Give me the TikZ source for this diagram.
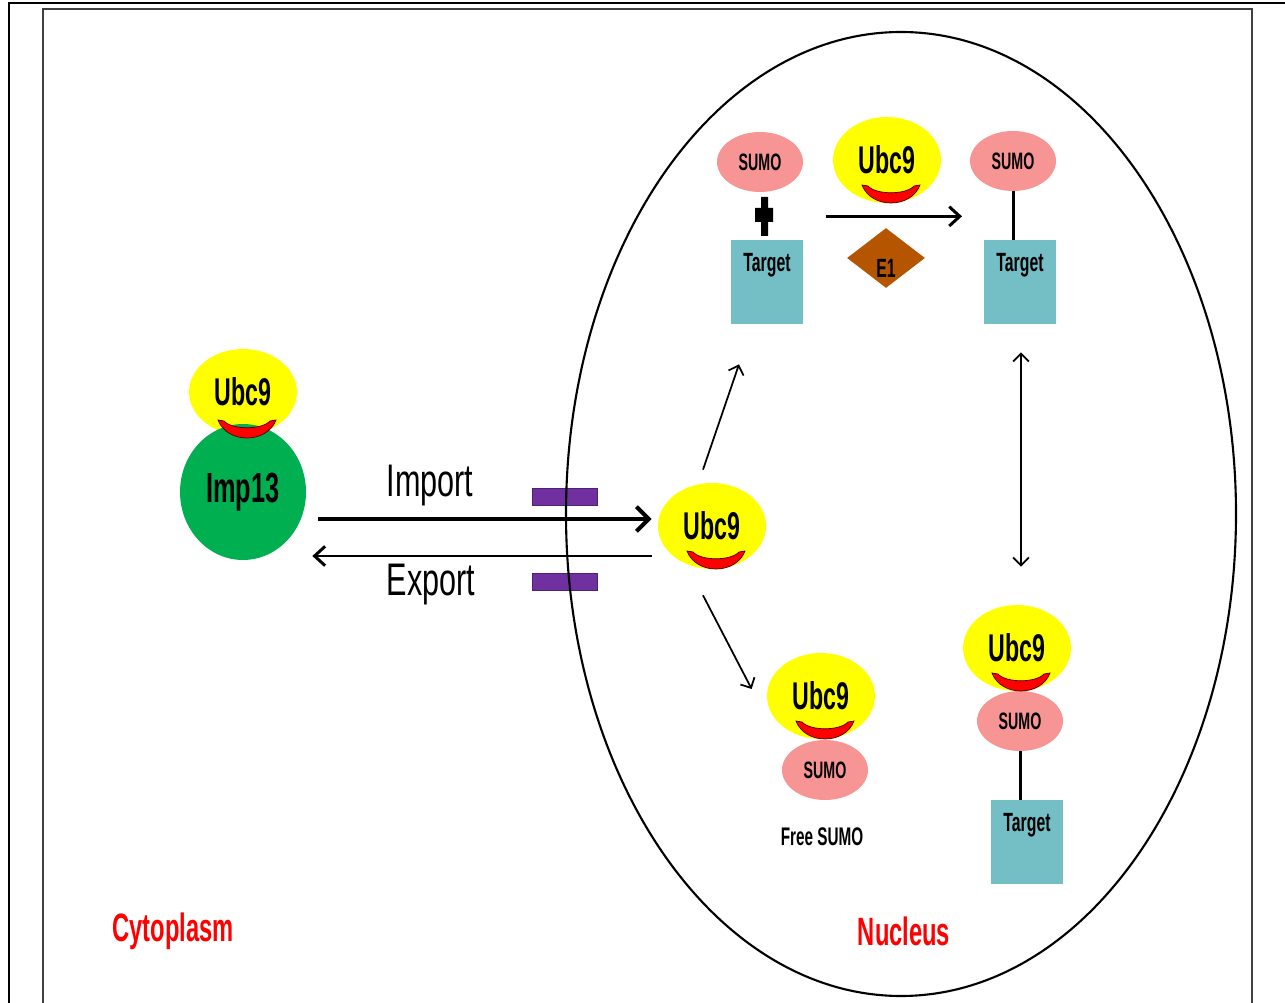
\documentclass[tikz,border=0pt]{standalone}
\usepackage{fontspec}
\setmainfont[FakeStretch=0.6]{Liberation Sans}
\newfontfamily\thinfont[FakeStretch=0.67]{Liberation Sans}
\usetikzlibrary{shapes.geometric,arrows.meta}
\definecolor{ubcyellow}{HTML}{FFFF00}
\definecolor{sumopink}{HTML}{F79494}
\definecolor{targetteal}{HTML}{74BEC5}
\definecolor{impgreen}{HTML}{00B050}
\definecolor{porepurple}{HTML}{7030A0}
\definecolor{eonebrown}{HTML}{B65500}

\begin{document}
\begin{tikzpicture}[x=0.02cm,y=-0.02cm,
    ubc/.style={ellipse,fill=ubcyellow,minimum width=2.16cm,minimum height=1.72cm,inner sep=0pt,font=\bfseries\fontsize{22}{24}\selectfont},
    imp/.style={ellipse,fill=impgreen,minimum width=2.52cm,minimum height=2.72cm,inner sep=0pt,font=\bfseries\fontsize{24}{26}\selectfont},
    sumo/.style={ellipse,fill=sumopink,minimum width=1.72cm,minimum height=1.2cm,inner sep=0pt,font=\bfseries\fontsize{13.5}{15}\selectfont},
    target/.style={rectangle,fill=targetteal,minimum width=1.44cm,minimum height=1.68cm,inner sep=0pt},
    tgtlbl/.style={anchor=north,font=\bfseries\fontsize{15}{17}\selectfont},
    eone/.style={diamond,fill=eonebrown,minimum width=1.56cm,minimum height=1.2cm,inner sep=0pt},
    pore/.style={rectangle,fill=porepurple,draw=porepurple!70!black,line width=0.5pt,minimum width=1.3cm,minimum height=0.34cm,inner sep=0pt},
    bond/.style={line width=1.7pt},
    fat/.style={line width=2.3pt,-{Straight Barb[length=7pt,width=14pt]}},
    mid/.style={line width=1.7pt,-{Straight Barb[length=6pt,width=11pt]}},
    slim/.style={line width=1pt,-{Straight Barb[length=4.5pt,width=9pt]}},
    biglbl/.style={font=\thinfont\fontsize{26}{28}\selectfont},
    place/.style={text=red,font=\bfseries\fontsize{22.5}{24}\selectfont},
    smile/.pic={\fill[red,draw=black!70!red,line width=0.4pt] (-29,0) .. controls (-20,24) and (20,24) .. (29,0) -- (23,1) .. controls (15,10) and (-15,10) .. (-23,1) -- cycle;}]
    \useasboundingbox (0,0) rectangle (1285,1003);

    % frames
    \draw[line width=1.6pt] (8,3) -- (1285,3) (9,3) -- (9,1003);
    \draw[line width=1.3pt,black!75] (43,1003) -- (43,9) -- (1252,9) -- (1252,1003);

    % nuclear pores and envelope
    \node[pore] (poreA) at (564.5,496.5) {};
    \node[pore] (poreB) at (564.5,581.5) {};
    \draw[line width=1.2pt] (901,514) ellipse [x radius=335, y radius=482];

    % cytoplasm
    \node[ubc] (ubcL) at (243,392) {Ubc9};
    \node[imp] (imp) at (243,492) {Imp13};
    \pic at ([shift={(4,28)}]ubcL.center) {smile};

    % nucleus
    \node[ubc] (ubcC) at (712,526) {Ubc9};
    \pic at ([shift={(4,25)}]ubcC.center) {smile};

    \node[sumo] (sumoA) at (760,162) {SUMO};
    \node[target] (tgtA) at (767,282) {};
    \node[tgtlbl] at ([yshift=-4pt]tgtA.north) {Target};
    \fill (761,197) rectangle (768,236) (755,208) rectangle (773,222);

    \node[ubc] (ubcT) at (887,160) {Ubc9};
    \pic at ([shift={(4,25)}]ubcT.center) {smile};
    \node[eone] (e1) at (886,258) {};
    \node[font=\bfseries\fontsize{15}{17}\selectfont] (e1txt) at (886,268) {E1};

    \node[sumo] (sumoB) at (1013,161) {SUMO};
    \node[target] (tgtB) at (1020,282) {};
    \node[tgtlbl] at ([yshift=-4pt]tgtB.north) {Target};
    \draw[bond] (sumoB.south) -- (sumoB.south |- tgtB.north);

    \node[ubc] (ubcR) at (1017,648) {Ubc9};
    \node[sumo] (sumoC) at (1020,721) {SUMO};
    \pic at ([shift={(4,25)}]ubcR.center) {smile};
    \node[target] (tgtC) at (1027,842) {};
    \node[tgtlbl] at ([yshift=-4pt]tgtC.north) {Target};
    \draw[bond] (sumoC.south) -- (sumoC.south |- tgtC.north);

    \node[ubc] (ubcF) at (821,696) {Ubc9};
    \node[sumo] (sumoD) at (825,770) {SUMO};
    \pic at ([shift={(4,25)}]ubcF.center) {smile};
    \node[font=\bfseries\fontsize{14.5}{16}\selectfont] (free) at (822,837) {Free SUMO};

    % transport and reactions
    \draw[fat] ([shift={(12,27)}]imp.east) -- ([shift={(-6,-7)}]ubcC.west);
    \draw[mid] ([shift={(-6,30)}]ubcC.west) -- ([shift={(6,64)}]imp.east);
    \node[biglbl] (imptxt) at (430,486) {Import};
    \node[biglbl] (exptxt) at (431,585) {Export};
    \draw[slim] ([shift={(-9,-13)}]ubcC.north) -- ([shift={(-28,40)}]tgtA.south);
    \draw[slim] ([shift={(-9,26)}]ubcC.south) -- ([shift={(-15,-7)}]ubcF.west);
    \draw[mid] ([shift={(-61,13)}]ubcT.south) -- ([shift={(75,13)}]ubcT.south);
    \draw[slim,{Straight Barb[length=4.5pt,width=9pt]}-{Straight Barb[length=4.5pt,width=9pt]}] ([shift={(1,28)}]tgtB.south) -- ([shift={(4,-38)}]ubcR.north);

    \node[place] (cyto) at (173,931) {Cytoplasm};
    \node[place] (nuc) at (904,931) {Nucleus};
\end{tikzpicture}
\end{document}
